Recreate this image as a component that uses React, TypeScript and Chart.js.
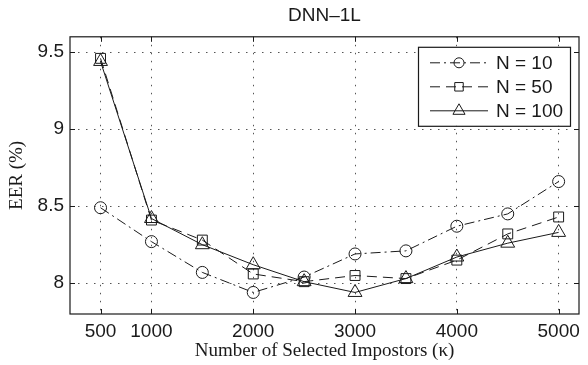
import React, { useEffect, useRef } from "react";
import { Chart, registerables } from "chart.js";

Chart.register(...registerables);

const titleText = "DNN\u20131L";
const xTitle = "Number of Selected Impostors (\u03ba)";
const yTitle = "EER (%)";

const xValues = [500, 1000, 1500, 2000, 2500, 3000, 3500, 4000, 4500, 5000];
const n10 = [8.49, 8.27, 8.07, 7.94, 8.04, 8.19, 8.21, 8.37, 8.45, 8.66];
const n50 = [9.46, 8.41, 8.28, 8.06, 8.01, 8.05, 8.03, 8.15, 8.32, 8.43];
const n100 = [9.44, 8.42, 8.25, 8.12, 8.01, 7.94, 8.03, 8.17, 8.26, 8.33];

const seriesLabels = ["N = 10", "N = 50", "N = 100"];
const xTicks = [500, 1000, 2000, 3000, 4000, 5000];
const yTicks = [8, 8.5, 9, 9.5];

const SANS = "'Liberation Sans', Arial, Helvetica, sans-serif";
const SERIF = "'Liberation Serif', 'Times New Roman', serif";
const INK = "#1a1a1a";

function drawMarker(ctx: CanvasRenderingContext2D, style: string, x: number, y: number, r: number) {
  ctx.beginPath();
  if (style === "circle") {
    ctx.arc(x, y, r, 0, Math.PI * 2);
  } else if (style === "rect") {
    const s = Math.SQRT1_2 * r;
    ctx.rect(x - s, y - s, 2 * s, 2 * s);
  } else {
    const t = (2 * Math.PI) / 3;
    ctx.moveTo(x, y - r);
    ctx.lineTo(x + Math.sin(t) * r, y - Math.cos(t) * r);
    ctx.lineTo(x + Math.sin(2 * t) * r, y - Math.cos(2 * t) * r);
    ctx.closePath();
  }
  ctx.stroke();
}

const framePlugin = {
  id: "frame",
  afterDraw(chart: any) {
    const { ctx, chartArea: a, scales } = chart;
    ctx.save();
    ctx.strokeStyle = INK;
    ctx.lineWidth = 1;
    ctx.setLineDash([]);
    // inward ticks
    const tl = 5;
    ctx.beginPath();
    for (const v of xTicks) {
      const px = Math.round(scales.x.getPixelForValue(v)) + 0.5;
      ctx.moveTo(px, a.bottom);
      ctx.lineTo(px, a.bottom - tl);
      ctx.moveTo(px, a.top);
      ctx.lineTo(px, a.top + tl);
    }
    for (const v of yTicks) {
      const py = Math.round(scales.y.getPixelForValue(v)) + 0.5;
      ctx.moveTo(a.left, py);
      ctx.lineTo(a.left + tl, py);
      ctx.moveTo(a.right, py);
      ctx.lineTo(a.right - tl, py);
    }
    ctx.stroke();
    ctx.lineWidth = 1.2;
    ctx.strokeRect(a.left, a.top, a.right - a.left, a.bottom - a.top);

    // legend
    const w = 152;
    const h = 79;
    const bx = a.right - 9 - w;
    const by = a.top + 10;
    ctx.fillStyle = "#ffffff";
    ctx.fillRect(bx, by, w, h);
    ctx.lineWidth = 1.2;
    ctx.strokeRect(bx + 0.5, by + 0.5, w, h);
    ctx.font = `19px ${SANS}`;
    ctx.textBaseline = "middle";
    ctx.textAlign = "left";
    chart.data.datasets.forEach((ds: any, i: number) => {
      const ry = by + 16 + i * 24;
      ctx.strokeStyle = INK;
      ctx.lineWidth = 1;
      ctx.setLineDash(ds.borderDash || []);
      ctx.beginPath();
      ctx.moveTo(bx + 12, ry);
      ctx.lineTo(bx + 70, ry);
      ctx.stroke();
      ctx.setLineDash([]);
      drawMarker(ctx, ds.pointStyle, bx + 41, ry, ds.pointRadius - 1);
      ctx.fillStyle = INK;
      ctx.fillText(ds.label, bx + 78, ry + 1);
    });
    ctx.restore();
  },
};

export default function App() {
  const ref = useRef<HTMLCanvasElement | null>(null);
  useEffect(() => {
    document.body.style.margin = "0";
    const canvas = ref.current;
    if (!canvas) return;
    const mk = (ys: number[]) => xValues.map((x, i) => ({ x, y: ys[i] }));
    const chart = new Chart(canvas, {
      type: "line",
      data: {
        datasets: [
          {
            label: seriesLabels[0],
            data: mk(n10),
            borderColor: INK,
            borderWidth: 1,
            borderDash: [10, 4, 2, 4],
            pointStyle: "circle",
            pointRadius: 6,
            pointBorderColor: INK,
            pointBorderWidth: 1,
            pointBackgroundColor: "rgba(0,0,0,0)",
            tension: 0,
          } as any,
          {
            label: seriesLabels[1],
            data: mk(n50),
            borderColor: INK,
            borderWidth: 1,
            borderDash: [10, 6],
            pointStyle: "rect",
            pointRadius: 7,
            pointBorderColor: INK,
            pointBorderWidth: 1,
            pointBackgroundColor: "rgba(0,0,0,0)",
            tension: 0,
          } as any,
          {
            label: seriesLabels[2],
            data: mk(n100),
            borderColor: INK,
            borderWidth: 1,
            borderDash: [],
            pointStyle: "triangle",
            pointRadius: 8,
            pointBorderColor: INK,
            pointBorderWidth: 1,
            pointBackgroundColor: "rgba(0,0,0,0)",
            tension: 0,
          } as any,
        ],
      },
      options: {
        responsive: false,
        animation: false,
        devicePixelRatio: 1,
        layout: { padding: { top: 0, right: 3, left: 0, bottom: 0 } },
        plugins: {
          legend: { display: false },
          tooltip: { enabled: false },
          title: {
            display: true,
            text: titleText,
            fullSize: false,
            color: INK,
            font: { family: SANS, size: 19, weight: "normal" },
            padding: { top: 4, bottom: 10 },
          },
        },
        scales: {
          x: {
            type: "linear",
            min: 200,
            max: 5200,
            afterBuildTicks: (s: any) => {
              s.ticks = xTicks.map((v) => ({ value: v }));
            },
            afterFit: (s: any) => {
              s.height = 51;
            },
            ticks: {
              color: INK,
              font: { family: SANS, size: 19 },
              padding: 6,
              maxRotation: 0,
              autoSkip: false,
              callback: (v: any) => String(v),
            },
            grid: { display: true, color: "#555", lineWidth: 1, drawTicks: false, tickLength: 0 },
            border: { display: false, dash: [1.5, 6.5] },
            title: {
              display: true,
              text: xTitle,
              color: INK,
              font: { family: SERIF, size: 19 },
              padding: { top: 3, bottom: 3 },
            },
          },
          y: {
            type: "linear",
            min: 7.8,
            max: 9.6,
            afterBuildTicks: (s: any) => {
              s.ticks = yTicks.map((v) => ({ value: v }));
            },
            afterFit: (s: any) => {
              s.width = 70;
            },
            ticks: {
              color: INK,
              font: { family: SANS, size: 19 },
              padding: 6,
              autoSkip: false,
              callback: (v: any) => String(v),
            },
            grid: { display: true, color: "#555", lineWidth: 1, drawTicks: false, tickLength: 0 },
            border: { display: false, dash: [1.5, 6.5] },
            title: {
              display: true,
              text: yTitle,
              color: INK,
              font: { family: SERIF, size: 19 },
              padding: { top: 6, bottom: 6 },
            },
          },
        },
      },
      plugins: [framePlugin],
    });
    return () => chart.destroy();
  }, []);
  return (
    <div style={{ width: 588, height: 365 }}>
      <canvas ref={ref} width={588} height={365} style={{ display: "block" }} />
    </div>
  );
}
